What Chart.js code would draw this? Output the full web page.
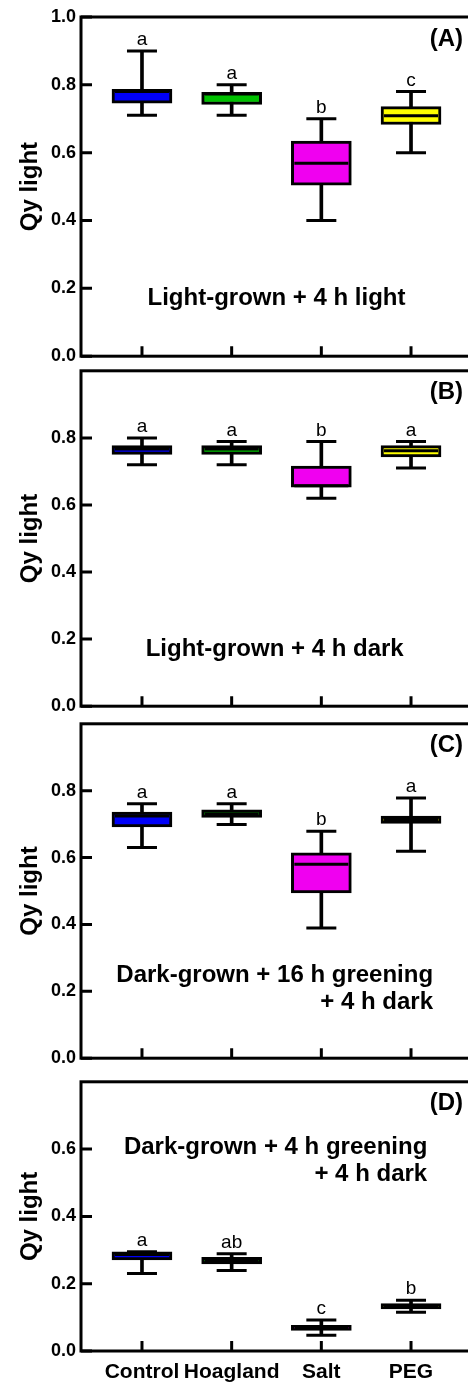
<!DOCTYPE html>
<html>
<head>
<meta charset="utf-8">
<script src="https://cdn.jsdelivr.net/npm/chart.js@4/dist/chart.umd.min.js"></script>
<style>
    html, body { margin: 0; padding: 0; background: #fff; overflow: hidden; width: 468px; height: 1384px; position: relative; }
    canvas { position: absolute; left: 0; }
</style>
</head>
<body>
<canvas id="pA" width="480" height="372" style="top:0px"></canvas>
<canvas id="pB" width="480" height="367" style="top:355px"></canvas>
<canvas id="pC" width="480" height="366" style="top:708px"></canvas>
<canvas id="pD" width="480" height="318" style="top:1066px"></canvas>
<script>
const groups = ['Control', 'Hoagland', 'Salt', 'PEG'];
const boxColors = ['#0000f8', '#00c000', '#f000f0', '#ffff00'];

// one row per group: [min, q1, median, q3, max]
const statsA = [[0.71, 0.746, 0.78, 0.787, 0.90], [0.71, 0.742, 0.773, 0.778, 0.80], [0.40, 0.504, 0.569, 0.634, 0.70], [0.60, 0.683, 0.709, 0.736, 0.78]];
const statsB = [[0.72, 0.751, 0.767, 0.777, 0.80], [0.72, 0.751, 0.767, 0.777, 0.789], [0.62, 0.653, 0.657, 0.716, 0.789], [0.71, 0.743, 0.762, 0.777, 0.789]];
const statsC = [[0.63, 0.692, 0.724, 0.736, 0.761], [0.699, 0.72, 0.730, 0.743, 0.761], [0.389, 0.494, 0.58, 0.614, 0.679], [0.619, 0.702, 0.714, 0.724, 0.778]];
const statsD = [[0.23, 0.271, 0.287, 0.295, 0.295], [0.239, 0.259, 0.269, 0.278, 0.289], [0.047, 0.061, 0.069, 0.076, 0.092], [0.115, 0.125, 0.134, 0.141, 0.151]];

const lettersA = ['a', 'a', 'b', 'c'];
const lettersB = ['a', 'a', 'b', 'a'];
const lettersC = ['a', 'a', 'b', 'a'];
const lettersD = ['a', 'ab', 'c', 'b'];

const yTicksFull = [0, 0.2, 0.4, 0.6, 0.8, 1.0];
const yTicksNoTop = [0, 0.2, 0.4, 0.6, 0.8];
const yTicksD = [0, 0.2, 0.4, 0.6];

const FONT = "'Liberation Sans', Arial, sans-serif";
Chart.defaults.font.family = FONT;
Chart.defaults.color = '#000';

const framePlugin = {
    id: 'frame',
    afterDraw(chart) {
        const { ctx, chartArea: a, scales: { x, y } } = chart;
        const o = chart.options.plugins.frame;
        ctx.save();
        ctx.strokeStyle = '#000';
        ctx.lineWidth = 3;
        ctx.strokeRect(a.left, a.top, a.right - a.left, a.bottom - a.top);
        ctx.beginPath();
        for (const t of y.ticks) {
            const py = y.getPixelForValue(t.value);
            ctx.moveTo(a.left, py);
            ctx.lineTo(a.left + 11, py);
        }
        for (const t of x.ticks) {
            const px = x.getPixelForValue(t.value);
            ctx.moveTo(px, a.bottom);
            ctx.lineTo(px, a.bottom - 10);
        }
        ctx.stroke();

        // significance letters above the upper whisker
        ctx.fillStyle = '#000';
        ctx.font = '19px ' + FONT;
        ctx.textAlign = 'center';
        ctx.textBaseline = 'alphabetic';
        o.letters.forEach((l, i) => {
            ctx.fillText(l, x.getPixelForValue(i + 1), y.getPixelForValue(o.stats[i][4]) - 6);
        });

        // panel tag
        ctx.font = 'bold 24px ' + FONT;
        ctx.textAlign = 'right';
        ctx.textBaseline = 'middle';
        ctx.fillText(o.tag, 463, a.top + 22);

        // condition note
        for (const n of o.notes) {
            ctx.textAlign = n.align;
            ctx.fillText(n.text, x.getPixelForValue(n.x), y.getPixelForValue(n.y));
        }
        ctx.restore();
    }
};

function makePanel(id, stats, letters, tag, notes, yMax, yTicks, showX, pad) {
    const cat = stats.map((s, i) => i + 1);
    return new Chart(document.getElementById(id), {
        data: {
            datasets: [
                {
                    type: 'bar',
                    data: stats.map((s, i) => ({ x: cat[i], y: [s[0], s[4]] })),
                    backgroundColor: '#000',
                    barThickness: 3,
                    grouped: false,
                    order: 4
                },
                {
                    type: 'line',
                    data: stats.flatMap((s, i) => [{ x: cat[i], y: s[0] }, { x: cat[i], y: s[4] }]),
                    showLine: false,
                    pointStyle: 'line',
                    pointRadius: 15,
                    pointBorderWidth: 3,
                    pointBorderColor: '#000',
                    order: 3
                },
                {
                    type: 'bar',
                    data: stats.map((s, i) => ({ x: cat[i], y: [s[1], s[3]] })),
                    backgroundColor: boxColors,
                    borderColor: '#000',
                    borderWidth: 3,
                    borderSkipped: false,
                    barThickness: 60,
                    grouped: false,
                    order: 2
                },
                {
                    type: 'line',
                    data: stats.map((s, i) => ({ x: cat[i], y: s[2] })),
                    showLine: false,
                    pointStyle: 'line',
                    pointRadius: 27,
                    pointBorderWidth: 3,
                    pointBorderColor: '#000',
                    order: 1
                }
            ]
        },
        options: {
            responsive: false,
            animation: false,
            layout: { autoPadding: false, padding: { top: pad[0], bottom: pad[1], left: 0, right: 8 } },
            plugins: {
                legend: { display: false },
                tooltip: { enabled: false },
                frame: { stats, letters, tag, notes }
            },
            scales: {
                x: {
                    type: 'linear',
                    offset: false,
                    min: 0.32,
                    max: 4.68,
                    grid: { display: false, drawTicks: false, offset: false },
                    border: { display: false },
                    afterBuildTicks: s => { s.ticks = cat.map(v => ({ value: v })); },
                    afterFit: s => { s.height = showX ? 33 : 0; },
                    ticks: {
                        display: showX,
                        autoSkip: false,
                        maxRotation: 0,
                        padding: 9,
                        font: { size: 21, weight: 'bold' },
                        callback: v => groups[v - 1]
                    }
                },
                y: {
                    min: 0,
                    max: yMax,
                    grid: { display: false, drawTicks: false },
                    border: { display: false },
                    afterBuildTicks: s => { s.ticks = yTicks.map(v => ({ value: v })); },
                    afterFit: s => { s.width = 81; },
                    ticks: {
                        padding: 5,
                        font: { size: 18, weight: 'bold' },
                        callback: v => v.toFixed(1)
                    },
                    title: {
                        display: true,
                        text: 'Qy light',
                        font: { size: 24, weight: 'bold' },
                        padding: { top: 16, bottom: 0 }
                    }
                }
            }
        },
        plugins: [framePlugin]
    });
}

makePanel('pA', statsA, lettersA, '(A)',
    [{ text: 'Light-grown + 4 h light', x: 2.5, y: 0.171, align: 'center' }],
    1.0, yTicksFull, false, [17, 14]);
makePanel('pB', statsB, lettersB, '(B)',
    [{ text: 'Light-grown + 4 h dark', x: 2.48, y: 0.168, align: 'center' }],
    1.0, yTicksNoTop, false, [14, 12]);
makePanel('pC', statsC, lettersC, '(C)',
    [{ text: 'Dark-grown + 16 h greening', x: 2.48, y: 0.248, align: 'center' },
     { text: '+ 4 h dark', x: 4.245, y: 0.168, align: 'right' }],
    1.0, yTicksNoTop, false, [14, 12]);
makePanel('pD', statsD, lettersD, '(D)',
    [{ text: 'Dark-grown + 4 h greening', x: 2.49, y: 0.605, align: 'center' },
     { text: '+ 4 h dark', x: 4.18, y: 0.526, align: 'right' }],
    0.8, yTicksD, true, [13, 0]);
</script>
</body>
</html>
